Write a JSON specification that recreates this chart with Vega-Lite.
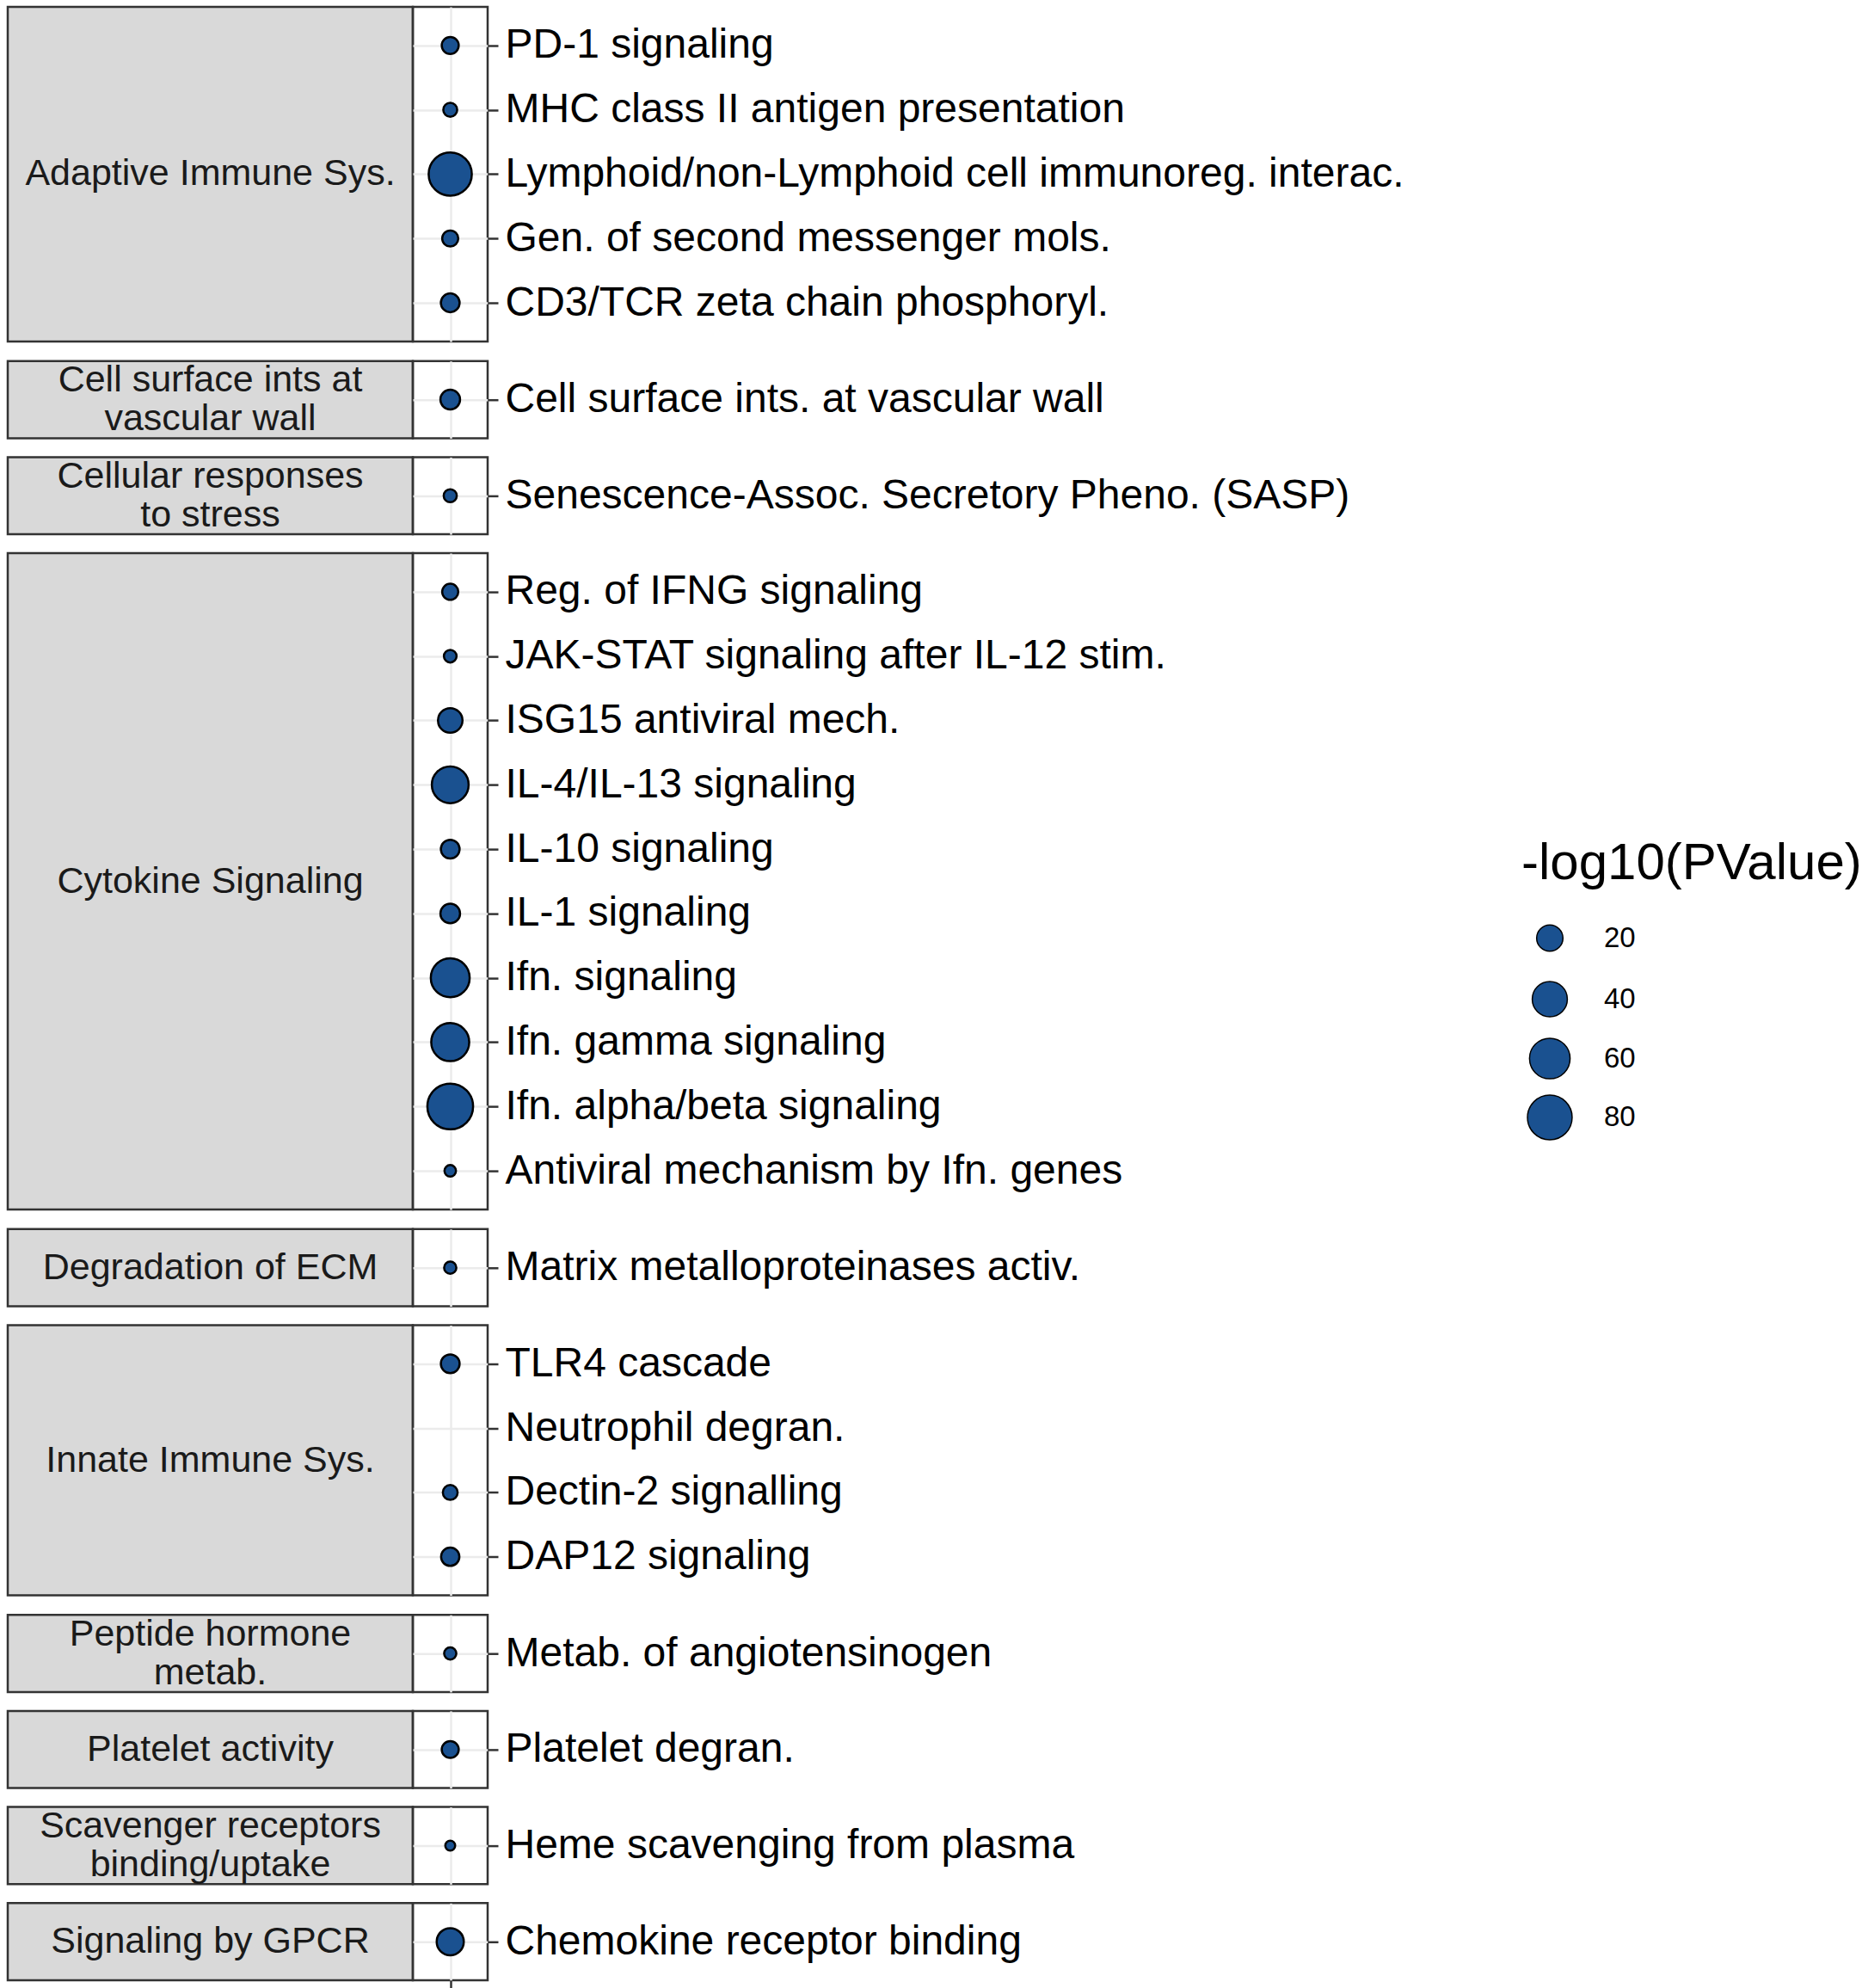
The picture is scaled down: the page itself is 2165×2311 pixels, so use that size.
{
  "$schema": "https://vega.github.io/schema/vega-lite/v6.json",
  "padding": {"left": 7, "top": 6, "right": 0, "bottom": 0},
  "background": "white",
  "spacing": 18.7,
  "config": {
    "font": "Liberation Sans",
    "view": {"stroke": "#333333", "strokeWidth": 2.5},
    "axis": {"labelFont": "Liberation Sans", "gridColor": "#EBEBEB", "gridWidth": 2.5, "tickColor": "#333333", "tickWidth": 2.5, "tickSize": 12, "domain": false, "title": null},
    "axisY": {"labelFontSize": 48, "labelColor": "#000000", "labelPadding": 8, "labelLimit": 3000},
    "legend": {"orient": "none", "legendX": 1760, "legendY": 967, "titleFontSize": 60, "titleFont": "Liberation Sans", "titleFontWeight": "normal", "titleColor": "#000000", "titlePadding": 39, "titleLimit": 2000, "labelFontSize": 33, "labelFont": "Liberation Sans", "labelColor": "#000000", "labelOffset": 36, "rowPadding": 7, "gridAlign": "all", "symbolOffset": 6, "symbolType": "circle", "symbolOpacity": 1}
  },
  "datasets": {
    "paths": [
      {"category": "Adaptive Immune Sys.", "pathway": "PD-1 signaling", "logp": 9.5},
      {"category": "Adaptive Immune Sys.", "pathway": "MHC class II antigen presentation", "logp": 7.6},
      {"category": "Adaptive Immune Sys.", "pathway": "Lymphoid/non-Lymphoid cell immunoreg. interac.", "logp": 72},
      {"category": "Adaptive Immune Sys.", "pathway": "Gen. of second messenger mols.", "logp": 8.9},
      {"category": "Adaptive Immune Sys.", "pathway": "CD3/TCR zeta chain phosphoryl.", "logp": 10.9},
      {"category": "Cell surface ints at vascular wall", "pathway": "Cell surface ints. at vascular wall", "logp": 11.7},
      {"category": "Cellular responses to stress", "pathway": "Senescence-Assoc. Secretory Pheno. (SASP)", "logp": 7.2},
      {"category": "Cytokine Signaling", "pathway": "Reg. of IFNG signaling", "logp": 8.9},
      {"category": "Cytokine Signaling", "pathway": "JAK-STAT signaling after IL-12 stim.", "logp": 7.0},
      {"category": "Cytokine Signaling", "pathway": "ISG15 antiviral mech.", "logp": 17.3},
      {"category": "Cytokine Signaling", "pathway": "IL-4/IL-13 signaling", "logp": 45.5},
      {"category": "Cytokine Signaling", "pathway": "IL-10 signaling", "logp": 10.9},
      {"category": "Cytokine Signaling", "pathway": "IL-1 signaling", "logp": 11.7},
      {"category": "Cytokine Signaling", "pathway": "Ifn. signaling", "logp": 53},
      {"category": "Cytokine Signaling", "pathway": "Ifn. gamma signaling", "logp": 49.7},
      {"category": "Cytokine Signaling", "pathway": "Ifn. alpha/beta signaling", "logp": 86},
      {"category": "Cytokine Signaling", "pathway": "Antiviral mechanism by Ifn. genes", "logp": 6.5},
      {"category": "Degradation of ECM", "pathway": "Matrix metalloproteinases activ.", "logp": 6.8},
      {"category": "Innate Immune Sys.", "pathway": "TLR4 cascade", "logp": 10.9},
      {"category": "Innate Immune Sys.", "pathway": "Neutrophil degran.", "logp": null},
      {"category": "Innate Immune Sys.", "pathway": "Dectin-2 signalling", "logp": 8.1},
      {"category": "Innate Immune Sys.", "pathway": "DAP12 signaling", "logp": 10.5},
      {"category": "Peptide hormone metab.", "pathway": "Metab. of angiotensinogen", "logp": 6.8},
      {"category": "Platelet activity", "pathway": "Platelet degran.", "logp": 9.5},
      {"category": "Scavenger receptors binding/uptake", "pathway": "Heme scavenging from plasma", "logp": 5.9},
      {"category": "Signaling by GPCR", "pathway": "Chemokine receptor binding", "logp": 21.3}
    ],
    "strips": [
      {"category": "Adaptive Immune Sys.", "label": "Adaptive Immune Sys."},
      {"category": "Cell surface ints at vascular wall", "label": "Cell surface ints at\nvascular wall"},
      {"category": "Cellular responses to stress", "label": "Cellular responses\nto stress"},
      {"category": "Cytokine Signaling", "label": "Cytokine Signaling"},
      {"category": "Degradation of ECM", "label": "Degradation of ECM"},
      {"category": "Innate Immune Sys.", "label": "Innate Immune Sys."},
      {"category": "Peptide hormone metab.", "label": "Peptide hormone\nmetab."},
      {"category": "Platelet activity", "label": "Platelet activity"},
      {"category": "Scavenger receptors binding/uptake", "label": "Scavenger receptors\nbinding/uptake"},
      {"category": "Signaling by GPCR", "label": "Signaling by GPCR"}
    ]
  },
  "vconcat": [
    {"spacing": 0, "bounds": "flush", "hconcat": [
      {"width": 471, "height": 388.9, "view": {"fill": "#D9D9D9", "stroke": "#333333", "strokeWidth": 2.5}, "data": {"name": "strips"}, "transform": [{"filter": {"field": "category", "equal": "Adaptive Immune Sys."}}],
       "mark": {"type": "text", "fontSize": 43, "color": "#1A1A1A", "lineBreak": "\n", "lineHeight": 45, "baseline": "middle", "align": "center"}, "encoding": {"text": {"field": "label", "type": "nominal"}}},
      {"width": 87, "height": 388.9, "data": {"name": "paths"}, "transform": [{"filter": {"field": "category", "equal": "Adaptive Immune Sys."}}],
       "mark": {"type": "circle", "fill": "#1A5190", "stroke": "#000000", "strokeWidth": 2.5, "opacity": 1},
       "encoding": {
         "x": {"datum": " ", "type": "nominal", "scale": {"type": "point", "padding": 0.5}, "axis": {"labels": false, "ticks": false, "grid": true}},
         "y": {"field": "pathway", "type": "nominal", "scale": {"type": "point", "padding": 0.6, "domain": ["PD-1 signaling", "MHC class II antigen presentation", "Lymphoid/non-Lymphoid cell immunoreg. interac.", "Gen. of second messenger mols.", "CD3/TCR zeta chain phosphoryl."]}, "axis": {"orient": "right", "grid": true}},
         "size": {"field": "logp", "type": "quantitative", "title": "-log10(PValue)", "scale": {"type": "sqrt", "zero": false, "domain": [5, 100], "range": [56, 3114]}, "legend": {"values": [20, 40, 60, 80], "encode": {"symbols": {"update": {"stroke": {"value": "#000000"}, "strokeWidth": {"value": 2.5}, "fill": {"value": "#1A5190"}, "opacity": {"value": 1}}}}}}
       }}
    ]},
    {"spacing": 0, "bounds": "flush", "hconcat": [
      {"width": 471, "height": 89.7, "view": {"fill": "#D9D9D9", "stroke": "#333333", "strokeWidth": 2.5}, "data": {"name": "strips"}, "transform": [{"filter": {"field": "category", "equal": "Cell surface ints at vascular wall"}}],
       "mark": {"type": "text", "fontSize": 43, "color": "#1A1A1A", "lineBreak": "\n", "lineHeight": 45, "baseline": "middle", "align": "center", "dy": -22.5}, "encoding": {"text": {"field": "label", "type": "nominal"}}},
      {"width": 87, "height": 89.7, "data": {"name": "paths"}, "transform": [{"filter": {"field": "category", "equal": "Cell surface ints at vascular wall"}}],
       "mark": {"type": "circle", "fill": "#1A5190", "stroke": "#000000", "strokeWidth": 2.5, "opacity": 1},
       "encoding": {
         "x": {"datum": " ", "type": "nominal", "scale": {"type": "point", "padding": 0.5}, "axis": {"labels": false, "ticks": false, "grid": true}},
         "y": {"field": "pathway", "type": "nominal", "scale": {"type": "point", "padding": 0.6, "domain": ["Cell surface ints. at vascular wall"]}, "axis": {"orient": "right", "grid": true}},
         "size": {"field": "logp", "type": "quantitative", "title": "-log10(PValue)", "scale": {"type": "sqrt", "zero": false, "domain": [5, 100], "range": [56, 3114]}, "legend": {"values": [20, 40, 60, 80], "encode": {"symbols": {"update": {"stroke": {"value": "#000000"}, "strokeWidth": {"value": 2.5}, "fill": {"value": "#1A5190"}, "opacity": {"value": 1}}}}}}
       }}
    ]},
    {"spacing": 0, "bounds": "flush", "hconcat": [
      {"width": 471, "height": 89.7, "view": {"fill": "#D9D9D9", "stroke": "#333333", "strokeWidth": 2.5}, "data": {"name": "strips"}, "transform": [{"filter": {"field": "category", "equal": "Cellular responses to stress"}}],
       "mark": {"type": "text", "fontSize": 43, "color": "#1A1A1A", "lineBreak": "\n", "lineHeight": 45, "baseline": "middle", "align": "center", "dy": -22.5}, "encoding": {"text": {"field": "label", "type": "nominal"}}},
      {"width": 87, "height": 89.7, "data": {"name": "paths"}, "transform": [{"filter": {"field": "category", "equal": "Cellular responses to stress"}}],
       "mark": {"type": "circle", "fill": "#1A5190", "stroke": "#000000", "strokeWidth": 2.5, "opacity": 1},
       "encoding": {
         "x": {"datum": " ", "type": "nominal", "scale": {"type": "point", "padding": 0.5}, "axis": {"labels": false, "ticks": false, "grid": true}},
         "y": {"field": "pathway", "type": "nominal", "scale": {"type": "point", "padding": 0.6, "domain": ["Senescence-Assoc. Secretory Pheno. (SASP)"]}, "axis": {"orient": "right", "grid": true}},
         "size": {"field": "logp", "type": "quantitative", "title": "-log10(PValue)", "scale": {"type": "sqrt", "zero": false, "domain": [5, 100], "range": [56, 3114]}, "legend": {"values": [20, 40, 60, 80], "encode": {"symbols": {"update": {"stroke": {"value": "#000000"}, "strokeWidth": {"value": 2.5}, "fill": {"value": "#1A5190"}, "opacity": {"value": 1}}}}}}
       }}
    ]},
    {"spacing": 0, "bounds": "flush", "hconcat": [
      {"width": 471, "height": 762.8, "view": {"fill": "#D9D9D9", "stroke": "#333333", "strokeWidth": 2.5}, "data": {"name": "strips"}, "transform": [{"filter": {"field": "category", "equal": "Cytokine Signaling"}}],
       "mark": {"type": "text", "fontSize": 43, "color": "#1A1A1A", "lineBreak": "\n", "lineHeight": 45, "baseline": "middle", "align": "center"}, "encoding": {"text": {"field": "label", "type": "nominal"}}},
      {"width": 87, "height": 762.8, "data": {"name": "paths"}, "transform": [{"filter": {"field": "category", "equal": "Cytokine Signaling"}}],
       "mark": {"type": "circle", "fill": "#1A5190", "stroke": "#000000", "strokeWidth": 2.5, "opacity": 1},
       "encoding": {
         "x": {"datum": " ", "type": "nominal", "scale": {"type": "point", "padding": 0.5}, "axis": {"labels": false, "ticks": false, "grid": true}},
         "y": {"field": "pathway", "type": "nominal", "scale": {"type": "point", "padding": 0.6, "domain": ["Reg. of IFNG signaling", "JAK-STAT signaling after IL-12 stim.", "ISG15 antiviral mech.", "IL-4/IL-13 signaling", "IL-10 signaling", "IL-1 signaling", "Ifn. signaling", "Ifn. gamma signaling", "Ifn. alpha/beta signaling", "Antiviral mechanism by Ifn. genes"]}, "axis": {"orient": "right", "grid": true}},
         "size": {"field": "logp", "type": "quantitative", "title": "-log10(PValue)", "scale": {"type": "sqrt", "zero": false, "domain": [5, 100], "range": [56, 3114]}, "legend": {"values": [20, 40, 60, 80], "encode": {"symbols": {"update": {"stroke": {"value": "#000000"}, "strokeWidth": {"value": 2.5}, "fill": {"value": "#1A5190"}, "opacity": {"value": 1}}}}}}
       }}
    ]},
    {"spacing": 0, "bounds": "flush", "hconcat": [
      {"width": 471, "height": 89.7, "view": {"fill": "#D9D9D9", "stroke": "#333333", "strokeWidth": 2.5}, "data": {"name": "strips"}, "transform": [{"filter": {"field": "category", "equal": "Degradation of ECM"}}],
       "mark": {"type": "text", "fontSize": 43, "color": "#1A1A1A", "lineBreak": "\n", "lineHeight": 45, "baseline": "middle", "align": "center"}, "encoding": {"text": {"field": "label", "type": "nominal"}}},
      {"width": 87, "height": 89.7, "data": {"name": "paths"}, "transform": [{"filter": {"field": "category", "equal": "Degradation of ECM"}}],
       "mark": {"type": "circle", "fill": "#1A5190", "stroke": "#000000", "strokeWidth": 2.5, "opacity": 1},
       "encoding": {
         "x": {"datum": " ", "type": "nominal", "scale": {"type": "point", "padding": 0.5}, "axis": {"labels": false, "ticks": false, "grid": true}},
         "y": {"field": "pathway", "type": "nominal", "scale": {"type": "point", "padding": 0.6, "domain": ["Matrix metalloproteinases activ."]}, "axis": {"orient": "right", "grid": true}},
         "size": {"field": "logp", "type": "quantitative", "title": "-log10(PValue)", "scale": {"type": "sqrt", "zero": false, "domain": [5, 100], "range": [56, 3114]}, "legend": {"values": [20, 40, 60, 80], "encode": {"symbols": {"update": {"stroke": {"value": "#000000"}, "strokeWidth": {"value": 2.5}, "fill": {"value": "#1A5190"}, "opacity": {"value": 1}}}}}}
       }}
    ]},
    {"spacing": 0, "bounds": "flush", "hconcat": [
      {"width": 471, "height": 314.1, "view": {"fill": "#D9D9D9", "stroke": "#333333", "strokeWidth": 2.5}, "data": {"name": "strips"}, "transform": [{"filter": {"field": "category", "equal": "Innate Immune Sys."}}],
       "mark": {"type": "text", "fontSize": 43, "color": "#1A1A1A", "lineBreak": "\n", "lineHeight": 45, "baseline": "middle", "align": "center"}, "encoding": {"text": {"field": "label", "type": "nominal"}}},
      {"width": 87, "height": 314.1, "data": {"name": "paths"}, "transform": [{"filter": {"field": "category", "equal": "Innate Immune Sys."}}],
       "mark": {"type": "circle", "fill": "#1A5190", "stroke": "#000000", "strokeWidth": 2.5, "opacity": 1},
       "encoding": {
         "x": {"datum": " ", "type": "nominal", "scale": {"type": "point", "padding": 0.5}, "axis": {"labels": false, "ticks": false, "grid": true}},
         "y": {"field": "pathway", "type": "nominal", "scale": {"type": "point", "padding": 0.6, "domain": ["TLR4 cascade", "Neutrophil degran.", "Dectin-2 signalling", "DAP12 signaling"]}, "axis": {"orient": "right", "grid": true}},
         "size": {"field": "logp", "type": "quantitative", "title": "-log10(PValue)", "scale": {"type": "sqrt", "zero": false, "domain": [5, 100], "range": [56, 3114]}, "legend": {"values": [20, 40, 60, 80], "encode": {"symbols": {"update": {"stroke": {"value": "#000000"}, "strokeWidth": {"value": 2.5}, "fill": {"value": "#1A5190"}, "opacity": {"value": 1}}}}}}
       }}
    ]},
    {"spacing": 0, "bounds": "flush", "hconcat": [
      {"width": 471, "height": 89.7, "view": {"fill": "#D9D9D9", "stroke": "#333333", "strokeWidth": 2.5}, "data": {"name": "strips"}, "transform": [{"filter": {"field": "category", "equal": "Peptide hormone metab."}}],
       "mark": {"type": "text", "fontSize": 43, "color": "#1A1A1A", "lineBreak": "\n", "lineHeight": 45, "baseline": "middle", "align": "center", "dy": -22.5}, "encoding": {"text": {"field": "label", "type": "nominal"}}},
      {"width": 87, "height": 89.7, "data": {"name": "paths"}, "transform": [{"filter": {"field": "category", "equal": "Peptide hormone metab."}}],
       "mark": {"type": "circle", "fill": "#1A5190", "stroke": "#000000", "strokeWidth": 2.5, "opacity": 1},
       "encoding": {
         "x": {"datum": " ", "type": "nominal", "scale": {"type": "point", "padding": 0.5}, "axis": {"labels": false, "ticks": false, "grid": true}},
         "y": {"field": "pathway", "type": "nominal", "scale": {"type": "point", "padding": 0.6, "domain": ["Metab. of angiotensinogen"]}, "axis": {"orient": "right", "grid": true}},
         "size": {"field": "logp", "type": "quantitative", "title": "-log10(PValue)", "scale": {"type": "sqrt", "zero": false, "domain": [5, 100], "range": [56, 3114]}, "legend": {"values": [20, 40, 60, 80], "encode": {"symbols": {"update": {"stroke": {"value": "#000000"}, "strokeWidth": {"value": 2.5}, "fill": {"value": "#1A5190"}, "opacity": {"value": 1}}}}}}
       }}
    ]},
    {"spacing": 0, "bounds": "flush", "hconcat": [
      {"width": 471, "height": 89.7, "view": {"fill": "#D9D9D9", "stroke": "#333333", "strokeWidth": 2.5}, "data": {"name": "strips"}, "transform": [{"filter": {"field": "category", "equal": "Platelet activity"}}],
       "mark": {"type": "text", "fontSize": 43, "color": "#1A1A1A", "lineBreak": "\n", "lineHeight": 45, "baseline": "middle", "align": "center"}, "encoding": {"text": {"field": "label", "type": "nominal"}}},
      {"width": 87, "height": 89.7, "data": {"name": "paths"}, "transform": [{"filter": {"field": "category", "equal": "Platelet activity"}}],
       "mark": {"type": "circle", "fill": "#1A5190", "stroke": "#000000", "strokeWidth": 2.5, "opacity": 1},
       "encoding": {
         "x": {"datum": " ", "type": "nominal", "scale": {"type": "point", "padding": 0.5}, "axis": {"labels": false, "ticks": false, "grid": true}},
         "y": {"field": "pathway", "type": "nominal", "scale": {"type": "point", "padding": 0.6, "domain": ["Platelet degran."]}, "axis": {"orient": "right", "grid": true}},
         "size": {"field": "logp", "type": "quantitative", "title": "-log10(PValue)", "scale": {"type": "sqrt", "zero": false, "domain": [5, 100], "range": [56, 3114]}, "legend": {"values": [20, 40, 60, 80], "encode": {"symbols": {"update": {"stroke": {"value": "#000000"}, "strokeWidth": {"value": 2.5}, "fill": {"value": "#1A5190"}, "opacity": {"value": 1}}}}}}
       }}
    ]},
    {"spacing": 0, "bounds": "flush", "hconcat": [
      {"width": 471, "height": 89.7, "view": {"fill": "#D9D9D9", "stroke": "#333333", "strokeWidth": 2.5}, "data": {"name": "strips"}, "transform": [{"filter": {"field": "category", "equal": "Scavenger receptors binding/uptake"}}],
       "mark": {"type": "text", "fontSize": 43, "color": "#1A1A1A", "lineBreak": "\n", "lineHeight": 45, "baseline": "middle", "align": "center", "dy": -22.5}, "encoding": {"text": {"field": "label", "type": "nominal"}}},
      {"width": 87, "height": 89.7, "data": {"name": "paths"}, "transform": [{"filter": {"field": "category", "equal": "Scavenger receptors binding/uptake"}}],
       "mark": {"type": "circle", "fill": "#1A5190", "stroke": "#000000", "strokeWidth": 2.5, "opacity": 1},
       "encoding": {
         "x": {"datum": " ", "type": "nominal", "scale": {"type": "point", "padding": 0.5}, "axis": {"labels": false, "ticks": false, "grid": true}},
         "y": {"field": "pathway", "type": "nominal", "scale": {"type": "point", "padding": 0.6, "domain": ["Heme scavenging from plasma"]}, "axis": {"orient": "right", "grid": true}},
         "size": {"field": "logp", "type": "quantitative", "title": "-log10(PValue)", "scale": {"type": "sqrt", "zero": false, "domain": [5, 100], "range": [56, 3114]}, "legend": {"values": [20, 40, 60, 80], "encode": {"symbols": {"update": {"stroke": {"value": "#000000"}, "strokeWidth": {"value": 2.5}, "fill": {"value": "#1A5190"}, "opacity": {"value": 1}}}}}}
       }}
    ]},
    {"spacing": 0, "bounds": "flush", "hconcat": [
      {"width": 471, "height": 89.7, "view": {"fill": "#D9D9D9", "stroke": "#333333", "strokeWidth": 2.5}, "data": {"name": "strips"}, "transform": [{"filter": {"field": "category", "equal": "Signaling by GPCR"}}],
       "mark": {"type": "text", "fontSize": 43, "color": "#1A1A1A", "lineBreak": "\n", "lineHeight": 45, "baseline": "middle", "align": "center"}, "encoding": {"text": {"field": "label", "type": "nominal"}}},
      {"width": 87, "height": 89.7, "data": {"name": "paths"}, "transform": [{"filter": {"field": "category", "equal": "Signaling by GPCR"}}],
       "mark": {"type": "circle", "fill": "#1A5190", "stroke": "#000000", "strokeWidth": 2.5, "opacity": 1},
       "encoding": {
         "x": {"datum": " ", "type": "nominal", "scale": {"type": "point", "padding": 0.5}, "axis": {"labels": false, "ticks": true, "grid": true}},
         "y": {"field": "pathway", "type": "nominal", "scale": {"type": "point", "padding": 0.6, "domain": ["Chemokine receptor binding"]}, "axis": {"orient": "right", "grid": true}},
         "size": {"field": "logp", "type": "quantitative", "title": "-log10(PValue)", "scale": {"type": "sqrt", "zero": false, "domain": [5, 100], "range": [56, 3114]}, "legend": {"values": [20, 40, 60, 80], "encode": {"symbols": {"update": {"stroke": {"value": "#000000"}, "strokeWidth": {"value": 2.5}, "fill": {"value": "#1A5190"}, "opacity": {"value": 1}}}}}}
       }}
    ]}
  ]
}
